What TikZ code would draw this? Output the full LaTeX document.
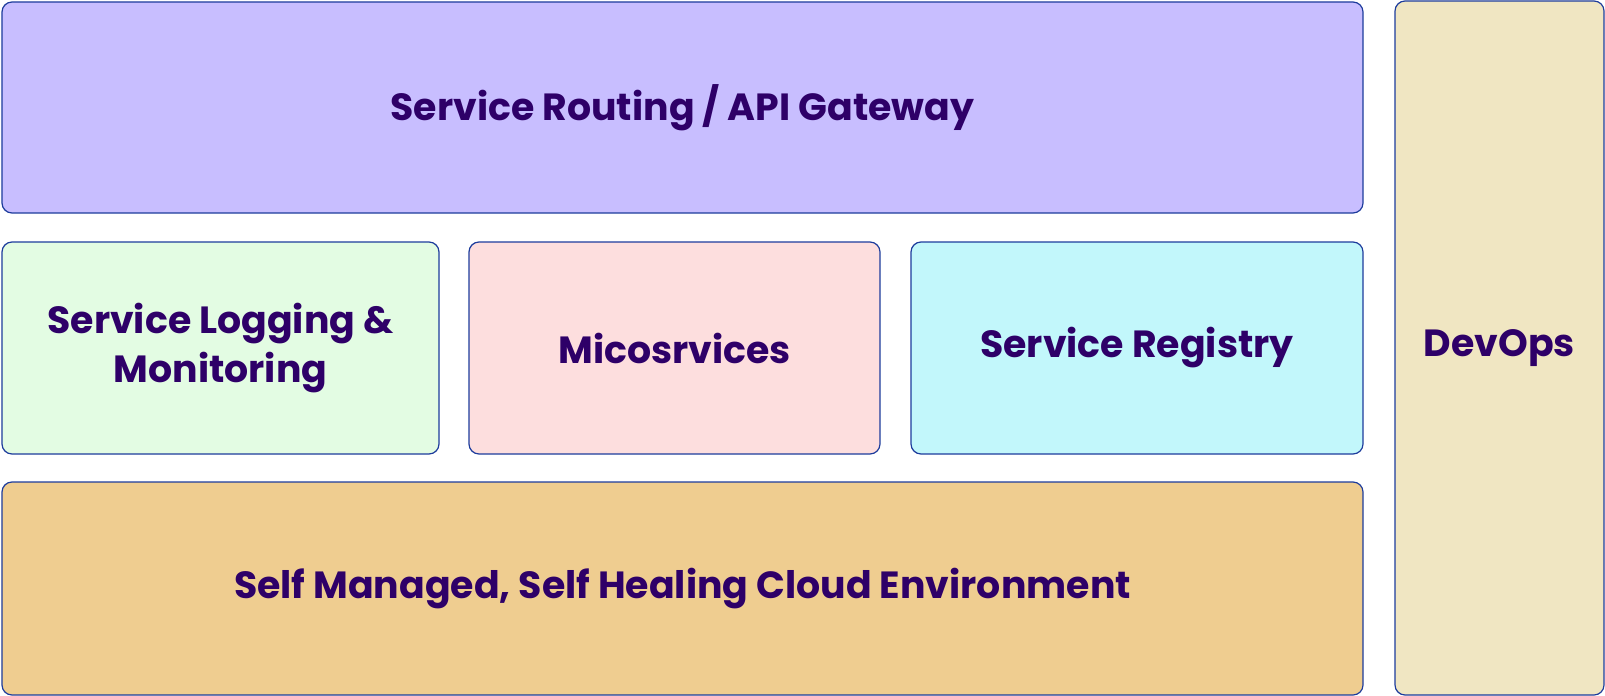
\documentclass[tikz,border=0pt]{standalone}
\usepackage{fontspec}
\setmainfont{Poppins}
\usepackage{tikz}

\definecolor{edgeblue}{HTML}{1D3C9C}
\definecolor{labelpurple}{HTML}{2E0068}
\definecolor{routefill}{HTML}{C8BEFF}
\definecolor{logfill}{HTML}{E3FCE3}
\definecolor{microfill}{HTML}{FDDEDE}
\definecolor{regfill}{HTML}{C2F7FB}
\definecolor{cloudfill}{HTML}{EFCD90}
\definecolor{devfill}{HTML}{F0E6C2}

\begin{document}
\begin{tikzpicture}[x=1bp, y=-1bp,
    every node/.style={rectangle, rounded corners=10bp, draw=edgeblue, line width=1.2bp,
        text=labelpurple, align=center, inner sep=0pt,
        font=\fontsize{38}{49}\selectfont\bfseries}]
    \useasboundingbox (0,0) rectangle (1605,696);

    \node (route) [fill=routefill, minimum width=1361bp, minimum height=211bp] at (682.5,107.5) {Service Routing / API Gateway};
    \node (logging) [fill=logfill, minimum width=437bp, minimum height=212bp] at (220.5,348) {Service Logging \&\\Monitoring};
    \node (micro) [fill=microfill, minimum width=411bp, minimum height=212bp] at (674.5,348) {Micosrvices};
    \node (registry) [fill=regfill, minimum width=452bp, minimum height=212bp] at (1137,348) {Service Registry};
    \node (cloud) [fill=cloudfill, minimum width=1361bp, minimum height=213bp] at (682.5,588.5) {Self Managed, Self Healing Cloud Environment};
    \node (devops) [fill=devfill, minimum width=209bp, minimum height=694bp] at (1499.5,348) {DevOps};
\end{tikzpicture}
\end{document}
